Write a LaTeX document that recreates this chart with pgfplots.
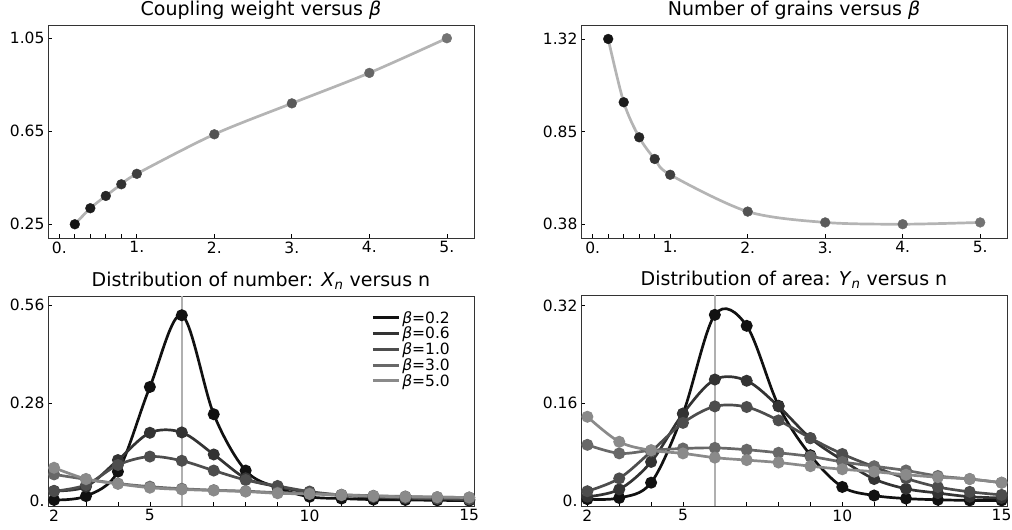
\documentclass[border=0pt]{standalone}
\usepackage{fontspec}
\setmainfont{DejaVu Sans}
\usepackage{pgfplots}
\pgfplotsset{compat=1.18}
\definecolor{linegray}{HTML}{B4B4B4}
\definecolor{vgray}{HTML}{B0B0B0}
\definecolor{p1}{HTML}{141414}
\definecolor{p2}{HTML}{1C1C1C}
\definecolor{p3}{HTML}{262626}
\definecolor{p4}{HTML}{333333}
\definecolor{p5}{HTML}{3F3F3F}
\definecolor{p6}{HTML}{525252}
\definecolor{p7}{HTML}{5A5A5A}
\definecolor{p8}{HTML}{666666}
\definecolor{p9}{HTML}{737373}
\definecolor{sA}{HTML}{111111}
\definecolor{sB}{HTML}{333333}
\definecolor{sC}{HTML}{4D4D4D}
\definecolor{sD}{HTML}{686868}
\definecolor{sE}{HTML}{8A8A8A}
\pgfplotsset{
  base/.style={
    scale only axis, clip=false,
    axis line style={black!80, line width=0.8pt},
    tick style={black, line width=0.7pt},
    tick align=inside, tick pos=left,
    major tick length=4pt, minor tick length=4pt,
    ticklabel style={font=\fontsize{15.5}{16}\selectfont},
    title style={font=\fontsize{19}{20}\selectfont, anchor=base, at={(0.5,1)}, yshift=3pt},
  },
  dot/.style={only marks, mark=*, mark size=4.9pt, mark options={draw=#1, fill=#1}},
  ser/.style={smooth, tension=0.55, color=#1, line width=2.7pt, mark=*, mark size=4.6pt, mark options={draw=#1, fill=#1}},
}
\begin{document}
\begin{tikzpicture}
\useasboundingbox (0pt,0pt) rectangle (1012pt,530pt);
% ---------------- top left
\begin{axis}[base, at={(48pt,292pt)}, anchor=south west, width=426pt, height=213pt,
  xmin=-0.146, xmax=5.35, ymin=0.191, ymax=1.107,
  xtick={0,1,2,3,4,5}, xticklabels={0.,1.,2.,3.,4.,5.},
  minor xtick={0.2,0.4,0.6,0.8},
  ytick={0.25,0.65,1.05}, yticklabels={0.25,0.65,1.05},
  title={Coupling weight versus \textit{β}}]
\addplot[smooth, color=linegray, line width=2.7pt] coordinates {(0.2,0.25) (0.4,0.319) (0.6,0.372) (0.8,0.422) (1,0.467) (2,0.637) (3,0.770) (4,0.901) (5,1.05)};
\addplot[dot=p1] coordinates {(0.2,0.25)};
\addplot[dot=p2] coordinates {(0.4,0.319)};
\addplot[dot=p3] coordinates {(0.6,0.372)};
\addplot[dot=p4] coordinates {(0.8,0.422)};
\addplot[dot=p5] coordinates {(1,0.467)};
\addplot[dot=p6] coordinates {(2,0.637)};
\addplot[dot=p7] coordinates {(3,0.770)};
\addplot[dot=p8] coordinates {(4,0.901)};
\addplot[dot=p9] coordinates {(5,1.05)};
\end{axis}
% ---------------- top right
\begin{axis}[base, at={(581pt,292pt)}, anchor=south west, width=426pt, height=213pt,
  xmin=-0.151, xmax=5.346, ymin=0.310, ymax=1.391,
  xtick={0,1,2,3,4,5}, xticklabels={0.,1.,2.,3.,4.,5.},
  minor xtick={0.2,0.4,0.6,0.8},
  ytick={0.38,0.85,1.32}, yticklabels={0.38,0.85,1.32},
  title={Number of grains versus \textit{β}}]
\addplot[smooth, color=linegray, line width=2.7pt] coordinates {(0.2,1.32) (0.4,0.999) (0.6,0.821) (0.8,0.711) (1,0.631) (2,0.444) (3,0.389) (4,0.38) (5,0.389)};
\addplot[dot=p1] coordinates {(0.2,1.32)};
\addplot[dot=p2] coordinates {(0.4,0.999)};
\addplot[dot=p3] coordinates {(0.6,0.821)};
\addplot[dot=p4] coordinates {(0.8,0.711)};
\addplot[dot=p5] coordinates {(1,0.631)};
\addplot[dot=p6] coordinates {(2,0.444)};
\addplot[dot=p7] coordinates {(3,0.389)};
\addplot[dot=p8] coordinates {(4,0.38)};
\addplot[dot=p9] coordinates {(5,0.389)};
\end{axis}
% ---------------- bottom left
\begin{axis}[base, at={(48pt,24pt)}, anchor=south west, width=426pt, height=210pt,
  xmin=1.81, xmax=15.15, ymin=-0.0143, ymax=0.586,
  xtick={2,...,15}, xticklabels={2,,,5,,,,,10,,,,,15},
  ytick={0,0.28,0.56}, yticklabels={0.,0.28,0.56},
  title={Distribution of number: \textit{X}\textsubscript{\textit{n}} versus n},
  legend style={at={(1,1)}, anchor=north east, xshift=-19pt, yshift=-11pt, draw=none, fill=none,
    font=\fontsize{15.5}{16}\selectfont, row sep=-1.6pt, cells={anchor=west}},
  legend image code/.code={\draw[#1, mark=none, line width=3pt] (0pt,0pt) -- (26pt,0pt);}]
\addplot[color=vgray, line width=2.2pt, forget plot] coordinates {(6,-0.0143) (6,0.586)};
\addplot[ser=sA] coordinates {(2,0.003) (3,0.014) (4,0.084) (5,0.326) (6,0.531) (7,0.248) (8,0.087) (9,0.038) (10,0.012) (11,0.007) (12,0.004) (13,0.003) (14,0.002) (15,0.001)};
\addlegendentry{\textit{β}=0.2}
\addplot[ser=sB] coordinates {(2,0.029) (3,0.041) (4,0.117) (5,0.195) (6,0.196) (7,0.133) (8,0.065) (9,0.041) (10,0.024) (11,0.016) (12,0.011) (13,0.008) (14,0.006) (15,0.004)};
\addlegendentry{\textit{β}=0.6}
\addplot[ser=sC] coordinates {(2,0.028) (3,0.046) (4,0.103) (5,0.127) (6,0.115) (7,0.087) (8,0.060) (9,0.043) (10,0.027) (11,0.017) (12,0.012) (13,0.009) (14,0.007) (15,0.005)};
\addlegendentry{\textit{β}=1.0}
\addplot[ser=sD] coordinates {(2,0.076) (3,0.062) (4,0.050) (5,0.041) (6,0.035) (7,0.031) (8,0.028) (9,0.024) (10,0.022) (11,0.018) (12,0.015) (13,0.013) (14,0.011) (15,0.010)};
\addlegendentry{\textit{β}=3.0}
\addplot[ser=sE] coordinates {(2,0.095) (3,0.063) (4,0.049) (5,0.038) (6,0.033) (7,0.030) (8,0.027) (9,0.022) (10,0.020) (11,0.017) (12,0.014) (13,0.012) (14,0.011) (15,0.010)};
\addlegendentry{\textit{β}=5.0}
\end{axis}
% ---------------- bottom right
\begin{axis}[base, at={(581pt,24pt)}, anchor=south west, width=426pt, height=211pt,
  xmin=1.80, xmax=15.17, ymin=-0.0082, ymax=0.3375,
  xtick={2,...,15}, xticklabels={2,,,5,,,,,10,,,,,15},
  ytick={0,0.16,0.32}, yticklabels={0.,0.16,0.32},
  title={Distribution of area: \textit{Y}\textsubscript{\textit{n}} versus n}]
\addplot[color=vgray, line width=2.2pt] coordinates {(6,-0.0082) (6,0.3375)};
\addplot[ser=sA] coordinates {(2,0.003) (3,0.005) (4,0.030) (5,0.143) (6,0.305) (7,0.287) (8,0.156) (9,0.075) (10,0.023) (11,0.009) (12,0.004) (13,0.002) (14,0.001) (15,0.001)};
\addplot[ser=sB] coordinates {(2,0.007) (3,0.019) (4,0.064) (5,0.143) (6,0.199) (7,0.197) (8,0.155) (9,0.103) (10,0.067) (11,0.036) (12,0.020) (13,0.013) (14,0.007) (15,0.005)};
\addplot[ser=sC] coordinates {(2,0.016) (3,0.037) (4,0.081) (5,0.128) (6,0.155) (7,0.154) (8,0.132) (9,0.103) (10,0.077) (11,0.056) (12,0.037) (13,0.023) (14,0.015) (15,0.010)};
\addplot[ser=sD] coordinates {(2,0.092) (3,0.078) (4,0.083) (5,0.086) (6,0.087) (7,0.084) (8,0.079) (9,0.073) (10,0.064) (11,0.057) (12,0.050) (13,0.041) (14,0.036) (15,0.030)};
\addplot[ser=sE] coordinates {(2,0.138) (3,0.097) (4,0.083) (5,0.078) (6,0.071) (7,0.067) (8,0.063) (9,0.057) (10,0.052) (11,0.048) (12,0.043) (13,0.039) (14,0.036) (15,0.030)};
\end{axis}
\end{tikzpicture}
\end{document}
